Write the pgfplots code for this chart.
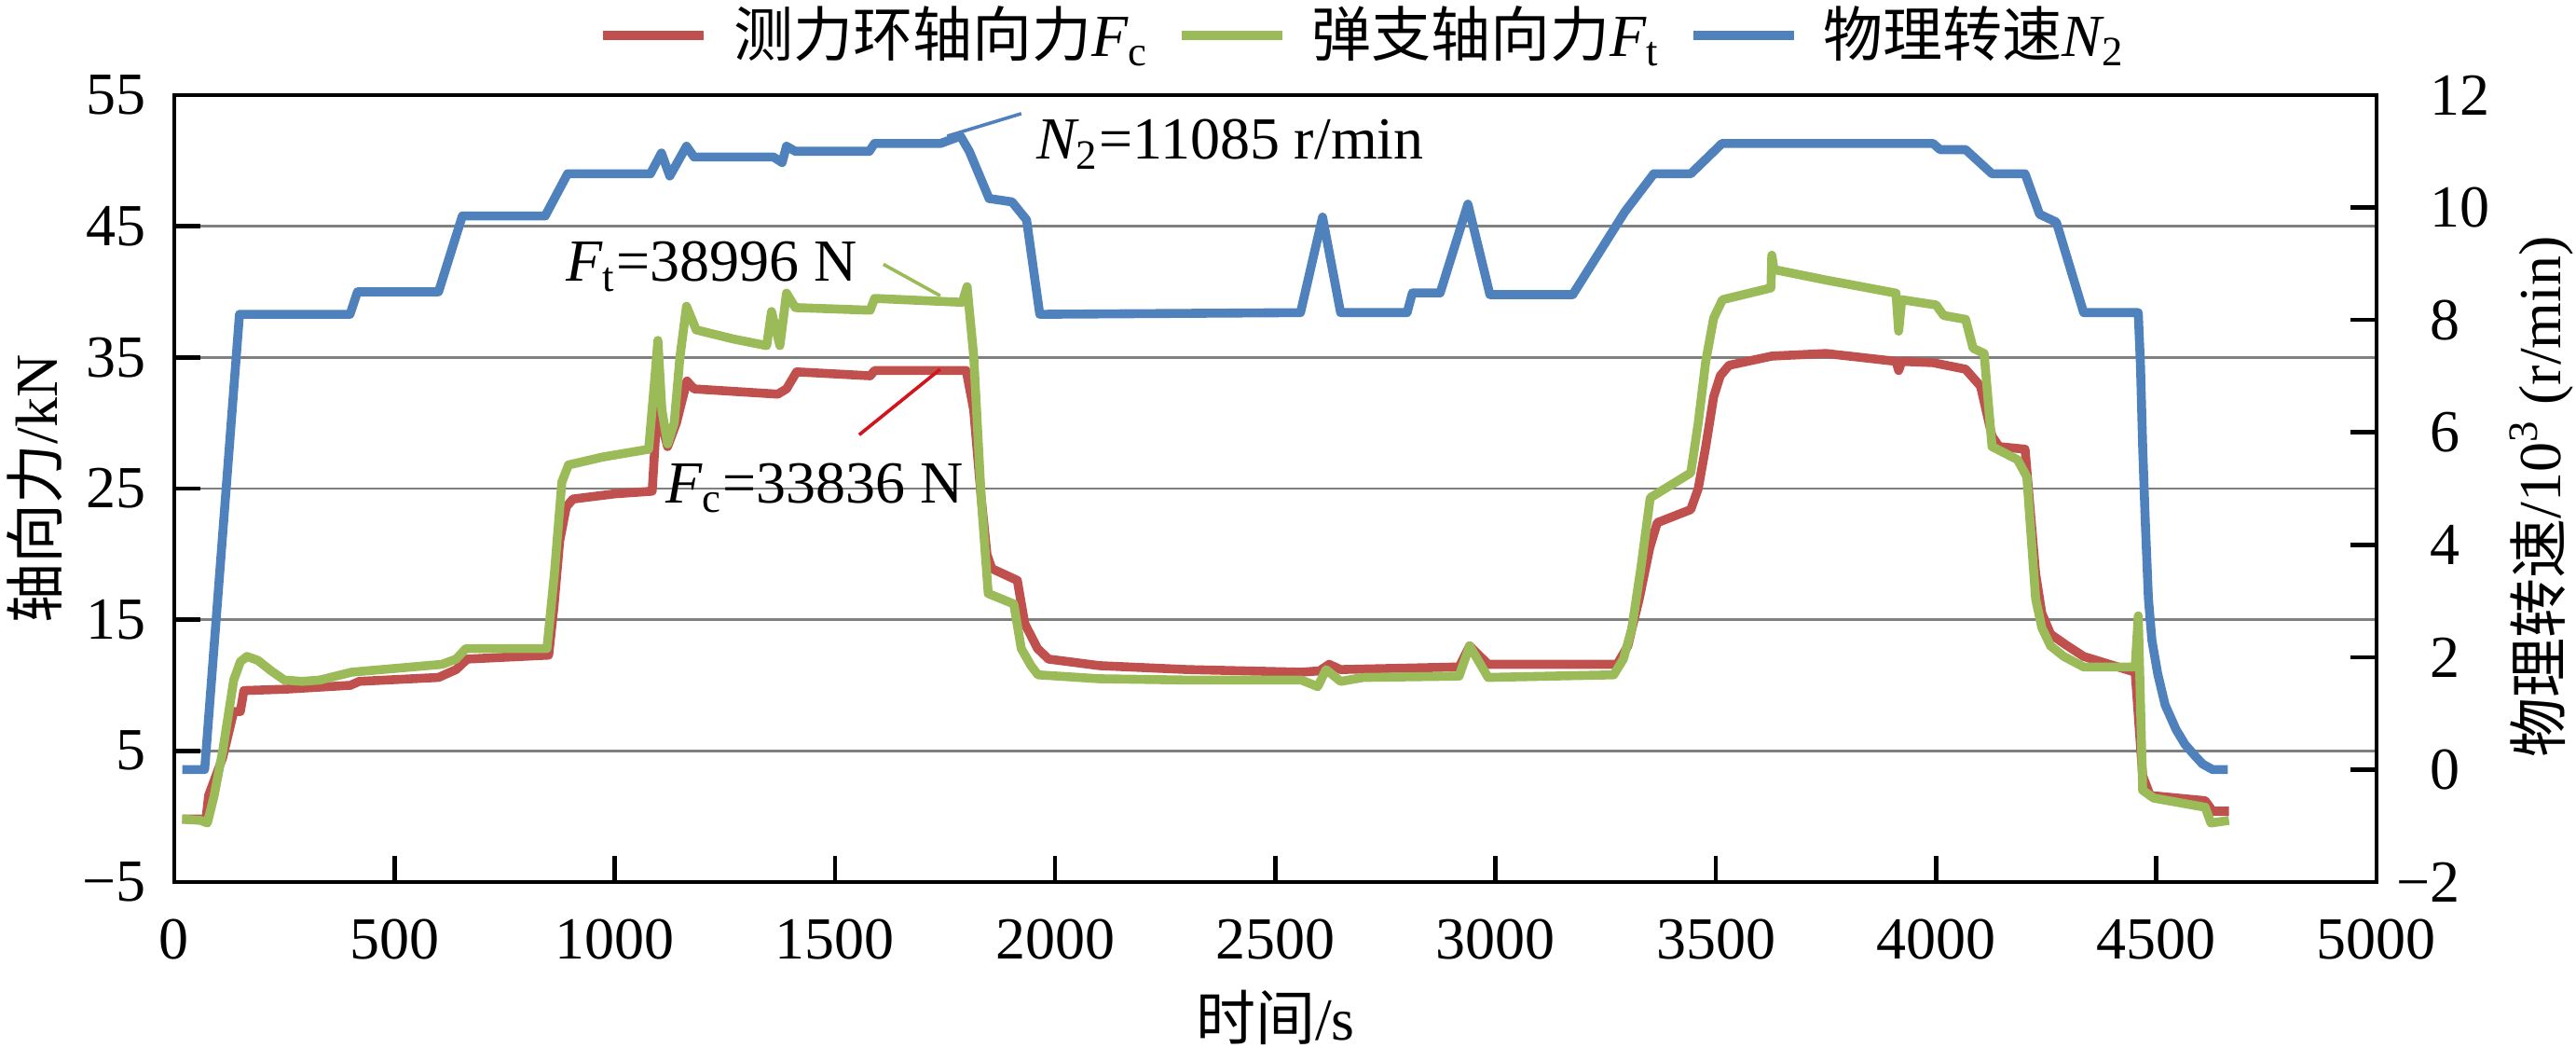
\documentclass[border=0pt]{standalone}
\usepackage{fontspec}
\setmainfont{Liberation Serif}
\newfontfamily\cjk{Noto Sans CJK SC}
\usepackage{pgfplots}
\pgfplotsset{compat=1.18}
\usepackage{pgfplotstable}

\definecolor{cred}{RGB}{192,80,77}
\definecolor{cgreen}{RGB}{155,187,89}
\definecolor{cblue}{RGB}{79,129,189}
\definecolor{cgrid}{RGB}{128,128,128}
\definecolor{leadred}{RGB}{210,20,30}

\pgfplotstableread{
t Fc
18 -0.2
72 -0.2
78 1.6
110 4.5
135 8.0
150 8.0
158 9.6
250 9.7
400 10.0
420 10.3
600 10.6
640 11.2
665 12.0
850 12.3
862 16.0
875 21.0
890 23.6
905 24.2
1000 24.6
1085 24.8
1098 32.0
1110 29.5
1120 28.2
1140 30.0
1164 33.2
1180 32.6
1370 32.2
1390 32.6
1413 33.9
1580 33.6
1590 34.0
1798 34.0
1815 31.0
1832 24.3
1845 20.0
1856 18.9
1914 18.0
1931 14.7
1960 12.8
1985 12.0
2100 11.5
2300 11.2
2559 11.0
2600 11.1
2622 11.6
2648 11.2
2917 11.4
2941 13.0
2983 11.6
3276 11.6
3300 13.0
3326 16.6
3350 20.5
3367 22.4
3443 23.4
3460 25.0
3477 28.2
3495 32.0
3510 33.6
3530 34.4
3627 35.1
3750 35.3
3909 34.7
3915 34.0
3922 34.7
3993 34.6
4067 34.1
4101 32.8
4127 29.0
4143 28.2
4202 28.0
4226 18.5
4240 15.5
4260 13.9
4294 13.1
4335 12.2
4452 11.0
4469 3.1
4486 1.6
4611 1.2
4628 0.4
4665 0.4
}\Fctab

\pgfplotstableread{
t Ft
18 -0.2
60 -0.3
75 -0.5
90 1.5
110 5.0
135 10.4
150 11.8
165 12.2
190 11.9
220 11.1
250 10.4
290 10.3
330 10.4
403 11.0
608 11.6
640 12.0
662 12.8
846 12.8
863 18.5
880 25.5
895 26.8
972 27.4
1077 28.0
1090 33.0
1098 36.3
1107 31.0
1120 28.4
1135 30.0
1148 35.0
1163 38.9
1185 37.1
1270 36.4
1345 35.9
1356 38.5
1375 35.9
1390 39.9
1410 38.8
1580 38.6
1590 39.5
1789 39.2
1800 40.4
1815 35.1
1832 24.3
1848 17.0
1906 16.2
1923 12.8
1945 11.5
1961 10.8
2100 10.5
2300 10.4
2559 10.4
2596 9.9
2615 11.2
2648 10.3
2700 10.6
2917 10.7
2941 13.0
2983 10.6
3268 10.8
3290 12.0
3309 14.3
3330 19.0
3351 24.3
3443 26.2
3460 30.0
3477 34.7
3495 38.0
3515 39.4
3625 40.3
3627 42.8
3632 41.7
3750 40.9
3909 39.9
3915 37.0
3922 39.4
4000 39.0
4017 38.2
4067 37.9
4084 35.7
4109 35.3
4127 28.2
4185 27.2
4206 25.9
4226 16.6
4240 14.4
4260 13.0
4290 12.2
4335 11.4
4452 11.4
4459 15.3
4469 2.0
4494 1.4
4611 0.7
4624 -0.5
4665 -0.3
}\Fttab

\pgfplotstableread{
t N
18 0
69 0
148 8.1
399 8.1
416 8.5
600 8.5
654 9.85
842 9.85
893 10.6
1081 10.6
1106 10.97
1125 10.56
1163 11.09
1180 10.9
1360 10.9
1380 10.8
1390 11.09
1410 11.0
1578 11.0
1590 11.14
1740 11.14
1785 11.27
1805 11.0
1850 10.16
1902 10.1
1935 9.78
1965 8.1
2557 8.13
2607 9.83
2648 8.13
2799 8.13
2811 8.48
2874 8.48
2937 10.06
2987 8.45
3175 8.45
3293 9.92
3359 10.6
3443 10.6
3514 11.14
3993 11.14
4009 11.03
4067 11.03
4127 10.6
4202 10.6
4235 9.88
4273 9.74
4335 8.13
4459 8.13
4464 7.2
4469 5.74
4475 4.4
4482 3.05
4490 2.3
4503 1.71
4520 1.15
4545 0.71
4565 0.45
4586 0.26
4605 0.1
4628 0.0
4662 0.0
}\Ntab

\pgfplotsset{
  base/.style={
    at={(0,0)}, anchor=south west, scale only axis,
    width=590.75pt, height=211pt,
    xmin=0, xmax=5000,
    tick align=inside,
    major tick length=7pt,
    axis line style={line width=1.15pt, black},
    tick style={black, line width=1.15pt},
  }
}

\begin{document}%
\fontsize{16}{19}\selectfont%
\begin{tikzpicture}[font=\fontsize{16}{19}\selectfont]
\begin{axis}[base,
  ymin=-5, ymax=55,
  xtick={0,500,...,5000},
  xticklabels={0,500,1000,1500,2000,2500,3000,3500,4000,4500,5000},
  ytick={-5,5,...,55},
  yticklabels={\llap{−}5,5,15,25,35,45,55},
  xtick pos=bottom, ytick pos=left,
  ymajorgrids, grid style={cgrid, line width=0.6pt},
  xticklabel style={anchor=north, inner sep=0pt, yshift=-9.75pt},
  yticklabel style={anchor=east, inner sep=0pt, xshift=-7.5pt},
  xlabel={{\cjk 时间}/s},
  xlabel style={at={(axis description cs:0.5,-0.1718)}, anchor=center, inner sep=0pt},
  ylabel={{\cjk 轴向力}/kN},
  ylabel style={at={(axis description cs:-0.0635,0.5)}, anchor=center, inner sep=0pt},
  legend columns=3,
  legend style={at={(axis description cs:0.5392,1.0758)}, anchor=center, draw=none, fill=none,
    inner sep=0pt, nodes={inner sep=0pt},
    /tikz/every odd column/.style={column sep=6.75pt},
    /tikz/every even column/.style={column sep=7.75pt}},
  legend image code/.code={\draw[#1] (0pt,0pt) -- (27pt,0pt);},
]
\addplot[cred, line width=2.4pt, line join=round] table[x=t,y=Fc]{\Fctab};
\addlegendentry{{\cjk 测力环轴向力}{\itshape F}\textsubscript{c}}
\addplot[cgreen, line width=2.4pt, line join=round] table[x=t,y=Ft]{\Fttab};
\addlegendentry{{\cjk 弹支轴向力}{\itshape F}\textsubscript{t}}
\addlegendimage{cblue, line width=2.4pt}
\addlegendentry{{\cjk 物理转速}{\itshape N}\textsubscript{2}}
\draw[cgreen, line width=0.9pt] (axis cs:1610,42.1) -- (axis cs:1739,39.7);
\draw[leadred, line width=0.9pt] (axis cs:1555,29.1) -- (axis cs:1739,34.1);
\node[anchor=base west, inner sep=0pt] at (axis cs:888,40.8) {{\itshape F}\textsubscript{t}=38996 N};
\node[anchor=base west, inner sep=0pt] at (axis cs:1115,23.9) {{\itshape F}\textsubscript{c}=33836 N};
\node[anchor=base west, inner sep=0pt] at (axis cs:1956,50.1) {{\itshape N}\textsubscript{2}=11085 r/min};
\end{axis}
\begin{axis}[base,
  ymin=-2, ymax=12,
  axis x line=none, axis y line*=right,
  ytick={-2,0,...,12},
  yticklabels={\llap{−}2,0,2,4,6,8,10,12},
  yticklabel style={anchor=west, inner sep=0pt, xshift=14.25pt},
  ylabel={{\cjk 物理转速}/10\textsuperscript{3} (r/min)},
  ylabel style={at={(axis description cs:1.0749,0.4893)}, anchor=center, inner sep=0pt},
]
\addplot[cblue, line width=2.4pt, line join=round] table[x=t,y=N]{\Ntab};
\draw[cblue, line width=0.9pt] (axis cs:1755,11.27) -- (axis cs:1923,11.67);
\end{axis}
\pgfresetboundingbox
\useasboundingbox (-46.75pt,-44.5pt) rectangle (644.25pt,236.5pt);
\end{tikzpicture}%
\end{document}
